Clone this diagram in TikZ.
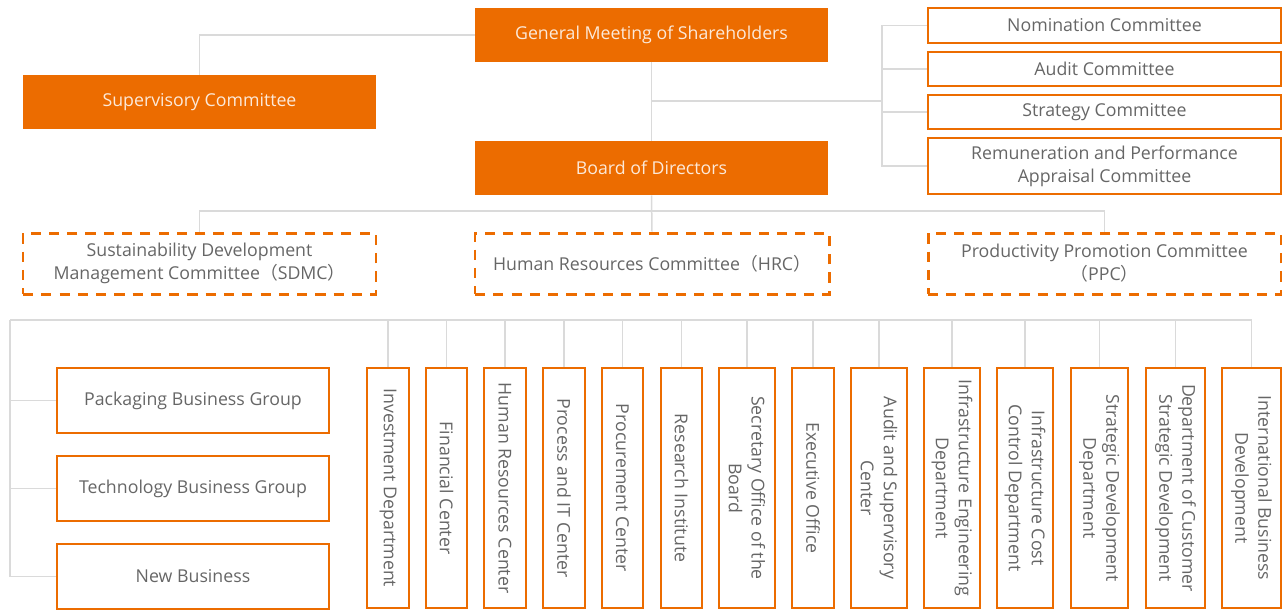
\documentclass[tikz,border=0pt]{standalone}
\usepackage{fontspec}
\setmainfont{Open Sans}
\newfontfamily\cjk{Noto Sans CJK SC}
\newcommand\lp{{\cjk （}}
\newcommand\rp{{\cjk ）}}
\definecolor{brand}{RGB}{236,108,0}
\definecolor{wire}{RGB}{218,218,218}
\definecolor{label}{RGB}{102,102,102}
\tikzset{
  sz/.style 2 args={minimum width=#1*0.02cm, minimum height=#2*0.02cm},
  solidbox/.style={fill=brand, draw=none, text=white!85!brand, inner sep=0pt,
    font=\fontsize{10.1}{13}\selectfont, align=center},
  framebox/.style={draw=brand, line width=1pt, text=label, inner sep=0pt,
    font=\fontsize{10.1}{13}\selectfont, align=center},
  dashbox/.style={framebox, line width=1.7pt, dash pattern=on 5.8pt off 4.6pt},
  deptbox/.style={framebox, rotate=-90},
  link/.style={draw=wire, line width=0.85pt}
}
\begin{document}
\begin{tikzpicture}[x=0.02cm, y=-0.02cm]
    \useasboundingbox (0,0) rectangle (1282,610);

    % governance
    \node[solidbox, sz={353}{54}] (gms) at (651.5,35) {General Meeting of Shareholders};
    \node[solidbox, sz={353}{54}] (sup) at (199.5,102) {Supervisory Committee};
    \node[solidbox, sz={353}{54}] (bod) at (651.5,168) {Board of Directors};

    \node[framebox, sz={353}{35}] (nom) at (1104.5,25.5) {Nomination Committee};
    \node[framebox, sz={353}{34}] (aud) at (1104.5,69) {Audit Committee};
    \node[framebox, sz={353}{34}] (str) at (1104.5,112) {Strategy Committee};
    \node[framebox, sz={353}{56}] (rem) at (1104.5,166) {Remuneration and Performance\\Appraisal Committee};

    \coordinate (brk) at (882,101);
    \draw[link] (gms.west) -| (sup.north);
    \draw[link] (gms.south) -- (bod.north);
    \draw[link] (gms.south |- brk) -- (brk);
    \draw[link] (nom.west) -- (nom.west -| brk) -- (rem.west -| brk) -- (rem.west);
    \draw[link] (aud.west -| brk) -- (aud.west);
    \draw[link] (str.west -| brk) -- (str.west);

    % committees under the board
    \node[dashbox, sz={353}{61}] (sdmc) at (199.5,263.5) {Sustainability Development\\Management Committee\lp SDMC\rp};
    \node[dashbox, sz={354}{61}] (hrc) at (652,263.5) {Human Resources Committee\lp HRC\rp};
    \node[dashbox, sz={353}{61}] (ppc) at (1104.5,263.5) {Productivity Promotion Committee\\\lp PPC\rp};

    \coordinate (mid) at (652,211);
    \draw[link] (bod.south) -- (hrc.north);
    \draw[link] (sdmc.north) |- (mid) -| (ppc.north);

    % business groups and departments
    \coordinate (bus) at (10,320);
    \node[framebox, sz={272}{65}] (pbg) at (193,400.5) {Packaging Business Group};
    \node[framebox, sz={272}{65}] (tbg) at (193,488.5) {Technology Business Group};
    \node[framebox, sz={272}{65}] (nbu) at (193,576.5) {New Business};

    \foreach \cx/\w/\nm/\txt in {
      388/42/inv/{Investment Department},
      446.5/41/fin/{Financial Center},
      505/42/hrs/{Human Resources Center},
      564/42/pit/{Process and IT Center},
      622.5/41/pro/{Procurement Center},
      681.5/41/res/{Research Institute},
      747/56/sec/{Secretary Office of the\\Board},
      813/42/exe/{Executive Office},
      879/56/asc/{Audit and Supervisory\\Center},
      952/56/ieg/{Infrastructure Engineering\\Department},
      1025/56/icc/{Infrastructure Cost\\Control Department},
      1099.5/57/sdd/{Strategic Development\\Department},
      1175.5/59/dcs/{Department of Customer\\Strategic Development},
      1251.5/59/ibd/{International Business\\Development}}
    {
      \node[deptbox, sz={240}{\w}] (\nm) at (\cx,488) {\txt};
      \draw[link] (\nm.west) -- (\nm.west |- bus);
    }

    \draw[link] (bus) -- (ibd.west |- bus);
    \draw[link] (bus) |- (nbu.west);
    \draw[link] (bus |- pbg.west) -- (pbg.west);
    \draw[link] (bus |- tbg.west) -- (tbg.west);
\end{tikzpicture}
\end{document}
